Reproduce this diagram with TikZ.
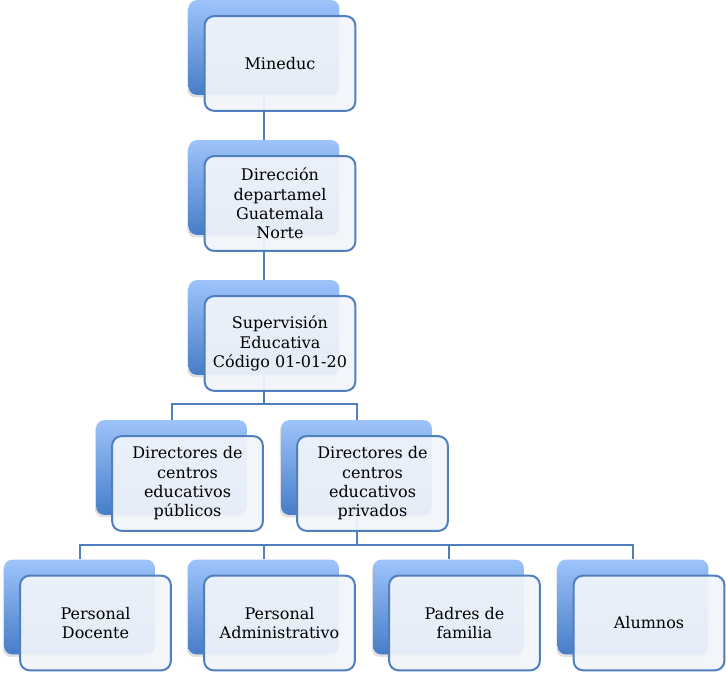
\documentclass[tikz,border=0pt]{standalone}
\usepackage{fontspec}
\setmainfont{DejaVu Serif}
\usepackage{tikz}
\usetikzlibrary{positioning, shadows}

\definecolor{boxtop}{HTML}{9DC3FA}
\definecolor{boxbot}{HTML}{467DC8}
\definecolor{frontfill}{HTML}{F1F5FB}
\definecolor{lineblue}{HTML}{4F7FBD}

\begin{document}
\begin{tikzpicture}[
      x=0.75pt, y=-0.75pt,
      backbox/.style={rectangle, rounded corners=6pt, minimum width=113pt, minimum height=71pt,
        top color=boxtop, bottom color=boxbot, draw=none,
        drop shadow={shadow xshift=-1pt, shadow yshift=-2pt, opacity=0.25}},
      frontbox/.style={rectangle, rounded corners=7pt, minimum width=113pt, minimum height=71pt,
        draw=lineblue, line width=1.5pt, fill=frontfill, fill opacity=0.93, text opacity=1,
        align=center, text=black},
      conn/.style={draw=lineblue, line width=1.5pt},
      every node/.style={font=\fontsize{12}{14.5}\selectfont}
    ]
    \useasboundingbox (0,0) rectangle (726,673);

    % Back boxes
    \node[backbox] (minB) at (264,47.5) {};
    \node[backbox] (dirB) at (264,187.5) {};
    \node[backbox] (supB) at (264,327.5) {};
    \node[backbox] (pubB) at (171.5,467.5) {};
    \node[backbox] (privB) at (356.5,467.5) {};
    \node[backbox] (docB) at (79.5,607) {};
    \node[backbox] (admB) at (263.5,607) {};
    \node[backbox] (padB) at (448.5,607) {};
    \node[backbox] (aluB) at (633,607) {};

    % Connectors
    \coordinate (j1) at (264,404);
    \coordinate (j2) at (356.5,545);
    \draw[conn] (minB.south) -- (dirB.north);
    \draw[conn] (dirB.south) -- (supB.north);
    \draw[conn] (supB.south) -- (j1) -| (pubB.north);
    \draw[conn] (j1) -| (privB.north);
    \draw[conn] (privB.south) -- (j2) -| (docB.north);
    \draw[conn] (j2) -| (admB.north);
    \draw[conn] (j2) -| (padB.north);
    \draw[conn] (j2) -| (aluB.north);

    % Front boxes
    \node[frontbox] (min) at ([shift={(16,16)}]minB) {Mineduc};
    \node[frontbox] (dir) at ([shift={(16,16)}]dirB) {Dirección\\departamel\\Guatemala\\Norte};
    \node[frontbox] (sup) at ([shift={(16,16)}]supB) {Supervisión\\Educativa\\Código 01-01-20};
    \node[frontbox] (pub) at ([shift={(16,16)}]pubB) {Directores de\\centros\\educativos\\públicos};
    \node[frontbox] (priv) at ([shift={(16,16)}]privB) {Directores de\\centros\\educativos\\privados};
    \node[frontbox] (doc) at ([shift={(16,16)}]docB) {Personal\\Docente};
    \node[frontbox] (adm) at ([shift={(16,16)}]admB) {Personal\\Administrativo};
    \node[frontbox] (pad) at ([shift={(16,16)}]padB) {Padres de\\familia};
    \node[frontbox] (alu) at ([shift={(16,16)}]aluB) {Alumnos};

\end{tikzpicture}
\end{document}
